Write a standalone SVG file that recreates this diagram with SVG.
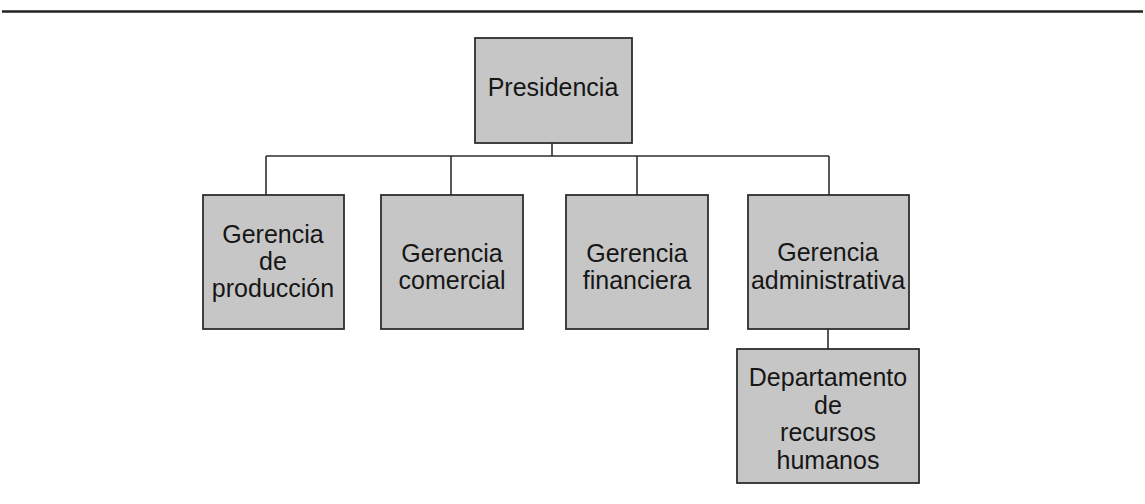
<svg xmlns="http://www.w3.org/2000/svg" width="1145" height="504" viewBox="0 0 1145 504">
<style>
.box{fill:#c6c6c6;stroke:#2e2e2e;stroke-width:1.8}
.t{font-family:"Liberation Sans",Arial,sans-serif;font-size:25px;fill:#161616;text-anchor:middle}
.c{stroke:#2e2e2e;stroke-width:1.6;fill:none}
</style>
<rect width="1145" height="504" fill="#ffffff"/>
<line x1="2" y1="11.5" x2="1143" y2="11.5" stroke="#222" stroke-width="2.5"/>
<g id="connectors">
<path class="c" d="M552 143V156M266 156H829M266 156V195M451 156V195M637 156V195M829 156V195M828 329V349"/>
</g>
<g id="presidencia">
<rect class="box" x="475" y="38" width="157" height="105"/>
<text class="t" x="553" y="96">Presidencia</text>
</g>
<g id="gerencia-produccion">
<rect class="box" x="203" y="195" width="141" height="134"/>
<text class="t" x="273" y="243">Gerencia</text>
<text class="t" x="273" y="270">de</text>
<text class="t" x="273" y="297">producción</text>
</g>
<g id="gerencia-comercial">
<rect class="box" x="381" y="195" width="142" height="134"/>
<text class="t" x="452" y="262">Gerencia</text>
<text class="t" x="452" y="289">comercial</text>
</g>
<g id="gerencia-financiera">
<rect class="box" x="566" y="195" width="142" height="134"/>
<text class="t" x="637" y="262">Gerencia</text>
<text class="t" x="637" y="289">financiera</text>
</g>
<g id="gerencia-administrativa">
<rect class="box" x="748" y="195" width="161" height="134"/>
<text class="t" x="828" y="261">Gerencia</text>
<text class="t" x="828" y="289">administrativa</text>
</g>
<g id="departamento-rrhh">
<rect class="box" x="737" y="349" width="182" height="134"/>
<text class="t" x="828" y="386">Departamento</text>
<text class="t" x="828" y="414">de</text>
<text class="t" x="828" y="441">recursos</text>
<text class="t" x="828" y="469">humanos</text>
</g>
</svg>
